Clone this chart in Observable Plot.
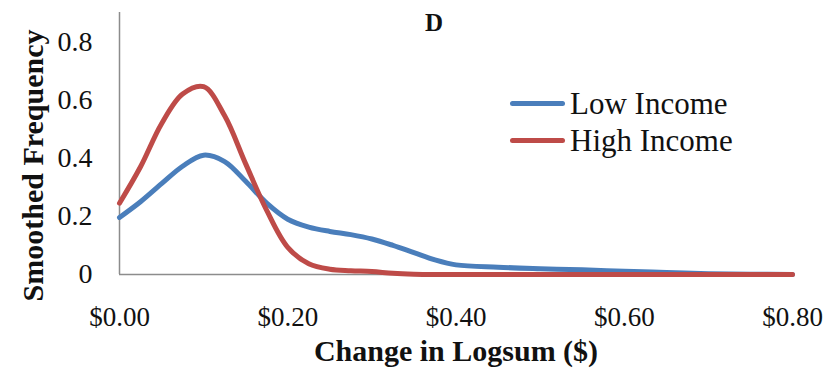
<!DOCTYPE html>
<html><head><meta charset="utf-8">
<script src="https://cdn.jsdelivr.net/npm/d3@7"></script>
<script src="https://cdn.jsdelivr.net/npm/@observablehq/plot@0.6"></script>
<style>
body{margin:0;background:#fff;}
#wrap{position:relative;width:833px;height:375px;}
#legend{position:absolute;left:510px;top:85px;font-family:"Liberation Serif",serif;font-size:31px;color:#111;}
#legend div{display:flex;align-items:center;height:37px;}
#legend span.sw{display:inline-block;width:55px;height:5px;border-radius:3px;margin-right:5px;}
</style></head>
<body><div id="wrap"><div id="legend"></div></div>
<script>
const title = "D";
const xLabel = "Change in Logsum ($)";
const yLabel = "Smoothed Frequency";
const seriesNames = ["Low Income", "High Income"];
const seriesColors = ["#4a7ebb", "#be4b48"];
const xTicks = [0, 0.2, 0.4, 0.6, 0.8];
const yTicks = [0, 0.2, 0.4, 0.6, 0.8];
const xs = [0, 0.025, 0.05, 0.075, 0.1, 0.125, 0.15, 0.175, 0.2, 0.225, 0.25, 0.275, 0.3, 0.325, 0.35, 0.375, 0.4, 0.45, 0.5, 0.55, 0.6, 0.65, 0.7, 0.75, 0.8];
const lowIncome = [0.196, 0.25, 0.312, 0.372, 0.41, 0.388, 0.32, 0.245, 0.19, 0.163, 0.148, 0.137, 0.122, 0.1, 0.075, 0.05, 0.033, 0.025, 0.02, 0.016, 0.011, 0.007, 0.003, 0.001, 0];
const highIncome = [0.245, 0.37, 0.518, 0.62, 0.645, 0.545, 0.38, 0.22, 0.093, 0.037, 0.018, 0.013, 0.01, 0.004, 0.001, 0, 0, 0, 0, 0, 0, 0, 0, 0, 0];

const data = [];
xs.forEach((x, i) => {
  data.push({x, y: lowIncome[i], s: seriesNames[0]});
  data.push({x, y: highIncome[i], s: seriesNames[1]});
});

const chart = Plot.plot({
  width: 833, height: 375,
  marginLeft: 119, marginRight: 41, marginTop: 12, marginBottom: 101,
  style: {fontFamily: "Liberation Serif, DejaVu Serif, serif", fontSize: "27px", color: "#111", background: "#fff", overflow: "visible"},
  x: {domain: [0, 0.8]},
  y: {domain: [0, 0.9]},
  color: {domain: seriesNames, range: seriesColors},
  marks: [
    Plot.axisX({ticks: xTicks, tickSize: 0, tickPadding: 32, tickFormat: d => "$" + d.toFixed(2), fontSize: 27, label: null}),
    Plot.axisY({ticks: yTicks, tickSize: 0, tickPadding: 27, tickFormat: d => d === 0 ? "0" : d.toFixed(1), fontSize: 28, label: null}),
    Plot.ruleX([0], {stroke: "#8c8c8c", strokeWidth: 1.5}),
    Plot.ruleY([0], {stroke: "#8c8c8c", strokeWidth: 1.5}),
    Plot.line(data, {x: "x", y: "y", z: "s", stroke: "s", strokeWidth: 5, curve: "catmull-rom"}),
    Plot.text([title], {frameAnchor: "top", textAnchor: "middle", dy: 1, dx: -22, fontWeight: "bold", fontSize: 25, text: d => d}),
    Plot.text([xLabel], {frameAnchor: "bottom", textAnchor: "middle", dy: 86, dx: 0, fontWeight: "bold", fontSize: 30, letterSpacing: 2, text: d => d}),
    Plot.text([yLabel], {frameAnchor: "left", textAnchor: "middle", dx: -86, dy: 22, rotate: -90, fontWeight: "bold", fontSize: 30, letterSpacing: 2, text: d => d})
  ]
});
document.getElementById("wrap").prepend(chart);

const lg = document.getElementById("legend");
seriesNames.forEach((n, i) => {
  const row = document.createElement("div");
  row.innerHTML = `<span class="sw" style="background:${seriesColors[i]}"></span>${n}`;
  lg.appendChild(row);
});
</script></body></html>
